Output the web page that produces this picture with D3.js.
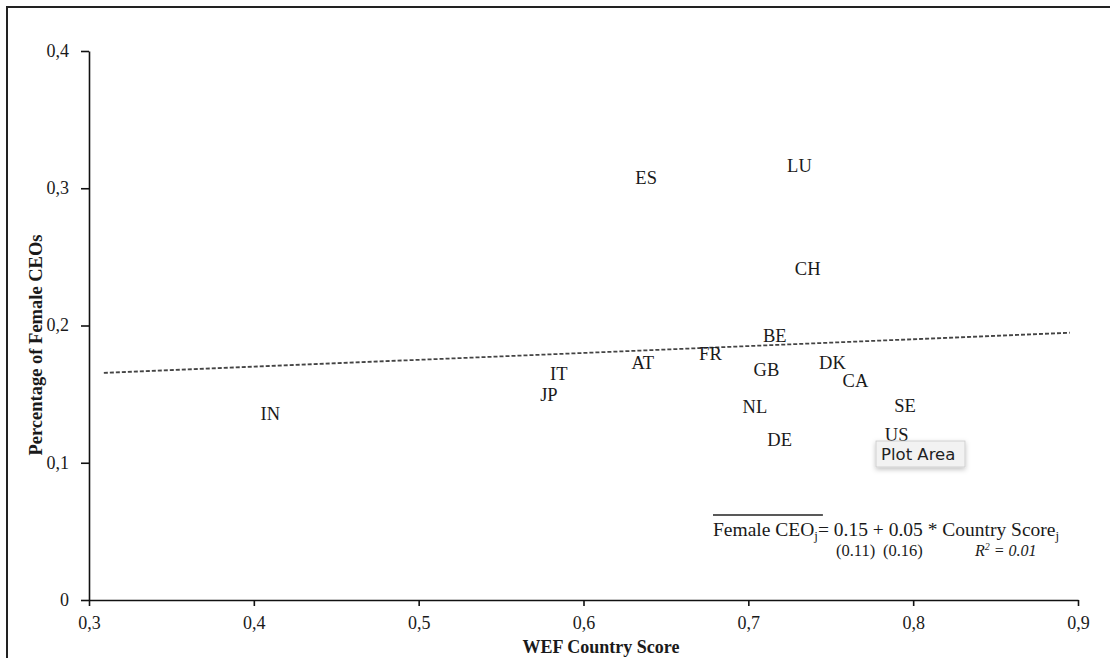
<!DOCTYPE html>
<html>
<head>
<meta charset="utf-8">
<script src="https://cdn.jsdelivr.net/npm/d3@7"></script>
<style>
  html, body { margin: 0; padding: 0; background: #fff; }
  svg { display: block; }
</style>
</head>
<body>
<svg id="chart" width="1110" height="658"></svg>
<script>
// Country codes, WEF gender gap score and share of female CEOs
const countries = ["ES", "LU", "CH", "BE", "FR", "AT", "DK", "GB", "CA", "IT", "JP", "IN", "NL", "SE", "US", "DE"];
const wefScore  = [0.638, 0.731, 0.736, 0.716, 0.677, 0.636, 0.751, 0.711, 0.765, 0.585, 0.579, 0.410, 0.704, 0.795, 0.790, 0.719];
const femaleCEO = [0.308, 0.317, 0.242, 0.193, 0.180, 0.173, 0.173, 0.168, 0.160, 0.165, 0.150, 0.136, 0.141, 0.142, 0.121, 0.117];

const xTicks = [0.3, 0.4, 0.5, 0.6, 0.7, 0.8, 0.9];
const yTicks = [0, 0.1, 0.2, 0.3, 0.4];

// Fitted line: Female CEO = 0.15 + 0.05 * Country Score
const fitIntercept = 0.15;
const fitSlope = 0.05;
const fitRange = [0.309, 0.895];

const svg = d3.select("#chart");
const serif = "'Liberation Serif', 'DejaVu Serif', serif";
const ink = "#1a1a1a";

// outer frame (top and left edges)
svg.append("path")
  .attr("d", "M7,658 L7,7 L1110,7")
  .attr("fill", "none").attr("stroke", "#222").attr("stroke-width", 2);

const x = d3.scaleLinear().domain([0.3, 0.9]).range([89, 1078]);
const y = d3.scaleLinear().domain([0, 0.4]).range([600, 51]);
const fmt = d => d === 0 ? "0" : d3.format(".1f")(d).replace(".", ",");

const xAxis = svg.append("g")
  .attr("transform", `translate(0,${y(0)})`)
  .call(d3.axisBottom(x).tickValues(xTicks).tickSize(6).tickSizeOuter(0).tickPadding(10).tickFormat(fmt));
const yAxis = svg.append("g")
  .attr("transform", `translate(${x(0.3)},0)`)
  .call(d3.axisLeft(y).tickValues(yTicks).tickSize(8).tickSizeOuter(0).tickPadding(12).tickFormat(fmt));

[xAxis, yAxis].forEach(g => {
  g.select(".domain").attr("stroke", "#111").attr("stroke-width", 1.6);
  g.selectAll(".tick line").attr("stroke", "#111").attr("stroke-width", 1.6);
  g.selectAll(".tick text")
    .attr("font-family", serif).attr("font-size", 18).attr("fill", ink);
});
yAxis.selectAll(".tick text").attr("dy", "0.3em");

// axis titles
svg.append("text")
  .attr("x", 601).attr("y", 653)
  .attr("text-anchor", "middle")
  .attr("font-family", serif).attr("font-size", 18).attr("font-weight", "bold").attr("fill", ink)
  .text("WEF Country Score");
svg.append("text")
  .attr("transform", "translate(42,345) rotate(-90)")
  .attr("text-anchor", "middle")
  .attr("font-family", serif).attr("font-size", 18.5).attr("font-weight", "bold").attr("fill", ink)
  .text("Percentage of Female CEOs");

// dashed regression line
const fitLine = d3.line().x(d => x(d)).y(d => y(fitIntercept + fitSlope * d));
svg.append("path")
  .attr("d", fitLine(fitRange))
  .attr("fill", "none").attr("stroke", "#444").attr("stroke-width", 1.8)
  .attr("stroke-dasharray", "4,2");

// country labels as markers
const points = countries.map((c, i) => ({ c, sx: wefScore[i], sy: femaleCEO[i] }));
svg.append("g").selectAll("text")
  .data(points)
  .join("text")
  .attr("x", d => x(d.sx))
  .attr("y", d => y(d.sy))
  .attr("dy", "0.36em")
  .attr("text-anchor", "middle")
  .attr("font-family", serif).attr("font-size", 18.5).attr("fill", ink)
  .text(d => d.c);

// regression equation
const eq = svg.append("text")
  .attr("x", 713).attr("y", 536)
  .attr("font-family", serif).attr("font-size", 19.5).attr("fill", ink);
eq.append("tspan").attr("id", "eqHead").text("Female CEO");
eq.append("tspan").attr("id", "eqSub").attr("font-size", 13).attr("dy", 4).text("j");
eq.append("tspan").attr("dy", -4).text("= 0.15 + 0.05 * Country Score");
eq.append("tspan").attr("font-size", 13).attr("dy", 4).text("j");

const subBox = document.getElementById("eqSub").getBBox();
svg.append("line")
  .attr("x1", 713).attr("x2", subBox.x + subBox.width + 5)
  .attr("y1", 515).attr("y2", 515)
  .attr("stroke", "#222").attr("stroke-width", 1.3);

const se = svg.append("g")
  .attr("font-family", serif).attr("font-size", 16.5).attr("fill", ink);
se.append("text").attr("x", 836).attr("y", 556).text("(0.11)");
se.append("text").attr("x", 883).attr("y", 556).text("(0.16)");
const r2 = se.append("text").attr("x", 975).attr("y", 556).attr("font-style", "italic").attr("font-size", 16);
r2.append("tspan").text("R");
r2.append("tspan").attr("font-size", 10).attr("dy", -6).text("2");
r2.append("tspan").attr("dy", 6).text(" = 0.01");

// "Plot Area" hover label
const defs = svg.append("defs");
const f = defs.append("filter").attr("id", "tipShadow").attr("x", "-20%").attr("y", "-40%").attr("width", "140%").attr("height", "190%");
f.append("feDropShadow").attr("dx", 0).attr("dy", 2).attr("stdDeviation", 2.5).attr("flood-color", "#000").attr("flood-opacity", 0.25);
svg.append("rect")
  .attr("x", 876).attr("y", 441).attr("width", 89).attr("height", 26)
  .attr("fill", "#f2f2f2").attr("stroke", "#c8c8c8").attr("stroke-width", 0.8)
  .attr("filter", "url(#tipShadow)");
svg.append("text")
  .attr("x", 881).attr("y", 459.5)
  .attr("font-family", "'DejaVu Sans', 'Liberation Sans', sans-serif").attr("font-size", 16.5).attr("fill", "#222")
  .text("Plot Area");
</script>
</body>
</html>
